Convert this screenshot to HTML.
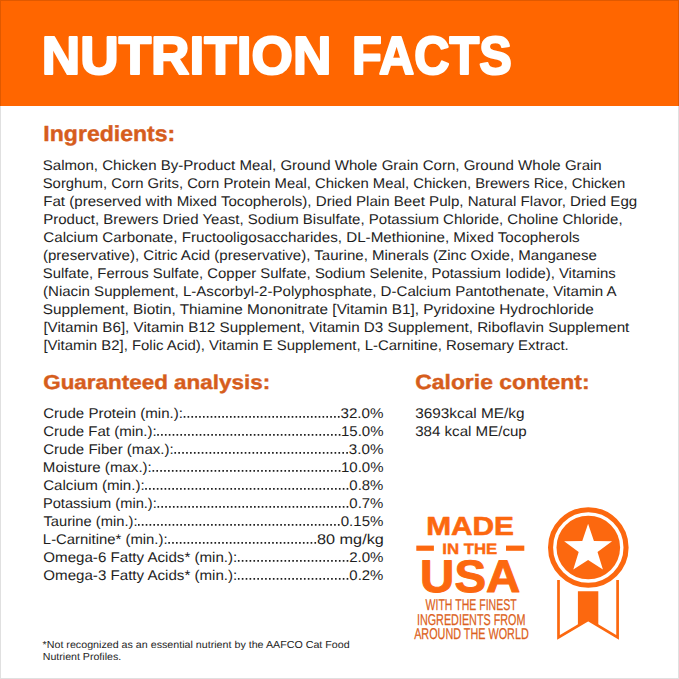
<!DOCTYPE html>
<html><head><meta charset="utf-8"><style>
html,body{margin:0;padding:0;background:#fff;width:679px;height:679px;overflow:hidden}
svg{display:block;font-family:"Liberation Sans",sans-serif;text-rendering:geometricPrecision}
</style></head><body>
<svg width="679" height="679" viewBox="0 0 679 679">
<rect x="0" y="0" width="679" height="106" fill="#ff6600"/>
<text x="41.82" y="74.20" font-size="53.488" font-weight="bold" fill="#fff" textLength="289.55" lengthAdjust="spacingAndGlyphs" stroke="#fff" stroke-width="2.2" stroke-linejoin="round">NUTRITION</text>
<text x="352.05" y="74.20" font-size="53.488" font-weight="bold" fill="#fff" textLength="159.71" lengthAdjust="spacingAndGlyphs" stroke="#fff" stroke-width="2.2" stroke-linejoin="round">FACTS</text>
<text x="43.35" y="141.20" font-size="21.802" font-weight="bold" fill="#d65d1c" textLength="131.96" lengthAdjust="spacingAndGlyphs" stroke="#d65d1c" stroke-width="0.4" stroke-linejoin="round">Ingredients:</text>
<text x="43.20" y="388.70" font-size="20.203" font-weight="bold" fill="#d65d1c" textLength="226.95" lengthAdjust="spacingAndGlyphs" stroke="#d65d1c" stroke-width="0.4" stroke-linejoin="round">Guaranteed analysis:</text>
<text x="415.25" y="388.60" font-size="20.640" font-weight="bold" fill="#d65d1c" textLength="174.31" lengthAdjust="spacingAndGlyphs" stroke="#d65d1c" stroke-width="0.4" stroke-linejoin="round">Calorie content:</text>
<text x="42.72" y="170.00" font-size="14.099" font-weight="normal" fill="#1e1e1e" textLength="559.02" lengthAdjust="spacingAndGlyphs">Salmon, Chicken By-Product Meal, Ground Whole Grain Corn, Ground Whole Grain</text>
<text x="42.72" y="188.03" font-size="14.099" font-weight="normal" fill="#1e1e1e" textLength="582.64" lengthAdjust="spacingAndGlyphs">Sorghum, Corn Grits, Corn Protein Meal, Chicken Meal, Chicken, Brewers Rice, Chicken</text>
<text x="43.22" y="206.06" font-size="14.099" font-weight="normal" fill="#1e1e1e" textLength="594.03" lengthAdjust="spacingAndGlyphs">Fat (preserved with Mixed Tocopherols), Dried Plain Beet Pulp, Natural Flavor, Dried Egg</text>
<text x="43.25" y="224.09" font-size="14.099" font-weight="normal" fill="#1e1e1e" textLength="579.31" lengthAdjust="spacingAndGlyphs">Product, Brewers Dried Yeast, Sodium Bisulfate, Potassium Chloride, Choline Chloride,</text>
<text x="43.25" y="242.12" font-size="14.099" font-weight="normal" fill="#1e1e1e" textLength="536.41" lengthAdjust="spacingAndGlyphs">Calcium Carbonate, Fructooligosaccharides, DL-Methionine, Mixed Tocopherols</text>
<text x="42.99" y="260.15" font-size="14.099" font-weight="normal" fill="#1e1e1e" textLength="553.86" lengthAdjust="spacingAndGlyphs">(preservative), Citric Acid (preservative), Taurine, Minerals (Zinc Oxide, Manganese</text>
<text x="42.72" y="278.18" font-size="14.099" font-weight="normal" fill="#1e1e1e" textLength="573.00" lengthAdjust="spacingAndGlyphs">Sulfate, Ferrous Sulfate, Copper Sulfate, Sodium Selenite, Potassium Iodide), Vitamins</text>
<text x="42.99" y="296.21" font-size="14.099" font-weight="normal" fill="#1e1e1e" textLength="573.60" lengthAdjust="spacingAndGlyphs">(Niacin Supplement, L-Ascorbyl-2-Polyphosphate, D-Calcium Pantothenate, Vitamin A</text>
<text x="42.66" y="314.24" font-size="14.099" font-weight="normal" fill="#1e1e1e" textLength="551.26" lengthAdjust="spacingAndGlyphs">Supplement, Biotin, Thiamine Mononitrate [Vitamin B1], Pyridoxine Hydrochloride</text>
<text x="43.40" y="332.27" font-size="14.099" font-weight="normal" fill="#1e1e1e" textLength="585.95" lengthAdjust="spacingAndGlyphs">[Vitamin B6], Vitamin B12 Supplement, Vitamin D3 Supplement, Riboflavin Supplement</text>
<text x="43.47" y="350.30" font-size="14.099" font-weight="normal" fill="#1e1e1e" textLength="525.24" lengthAdjust="spacingAndGlyphs">[Vitamin B2], Folic Acid), Vitamin E Supplement, L-Carnitine, Rosemary Extract.</text>
<text x="43.21" y="417.70" font-size="14.099" font-weight="normal" fill="#1e1e1e" textLength="139.76" lengthAdjust="spacingAndGlyphs">Crude Protein (min.):</text>
<text x="340.51" y="417.70" font-size="14.099" font-weight="normal" fill="#1e1e1e" textLength="43.00" lengthAdjust="spacingAndGlyphs">32.0%</text>
<text x="43.20" y="435.70" font-size="14.099" font-weight="normal" fill="#1e1e1e" textLength="113.52" lengthAdjust="spacingAndGlyphs">Crude Fat (min.):</text>
<text x="340.97" y="435.70" font-size="14.099" font-weight="normal" fill="#1e1e1e" textLength="42.55" lengthAdjust="spacingAndGlyphs">15.0%</text>
<text x="43.23" y="453.70" font-size="14.099" font-weight="normal" fill="#1e1e1e" textLength="130.43" lengthAdjust="spacingAndGlyphs">Crude Fiber (max.):</text>
<text x="348.84" y="453.70" font-size="14.099" font-weight="normal" fill="#1e1e1e" textLength="34.57" lengthAdjust="spacingAndGlyphs">3.0%</text>
<text x="42.84" y="471.70" font-size="14.099" font-weight="normal" fill="#1e1e1e" textLength="108.97" lengthAdjust="spacingAndGlyphs">Moisture (max.):</text>
<text x="340.97" y="471.70" font-size="14.099" font-weight="normal" fill="#1e1e1e" textLength="42.55" lengthAdjust="spacingAndGlyphs">10.0%</text>
<text x="43.23" y="489.70" font-size="14.099" font-weight="normal" fill="#1e1e1e" textLength="101.46" lengthAdjust="spacingAndGlyphs">Calcium (min.):</text>
<text x="349.36" y="489.70" font-size="14.099" font-weight="normal" fill="#1e1e1e" textLength="34.04" lengthAdjust="spacingAndGlyphs">0.8%</text>
<text x="42.92" y="507.70" font-size="14.099" font-weight="normal" fill="#1e1e1e" textLength="113.91" lengthAdjust="spacingAndGlyphs">Potassium (min.):</text>
<text x="349.36" y="507.70" font-size="14.099" font-weight="normal" fill="#1e1e1e" textLength="34.04" lengthAdjust="spacingAndGlyphs">0.7%</text>
<text x="43.48" y="525.70" font-size="14.099" font-weight="normal" fill="#1e1e1e" textLength="94.01" lengthAdjust="spacingAndGlyphs">Taurine (min.):</text>
<text x="340.76" y="525.70" font-size="14.099" font-weight="normal" fill="#1e1e1e" textLength="42.69" lengthAdjust="spacingAndGlyphs">0.15%</text>
<text x="42.88" y="543.70" font-size="14.099" font-weight="normal" fill="#1e1e1e" textLength="124.68" lengthAdjust="spacingAndGlyphs">L-Carnitine* (min.):</text>
<text x="317.03" y="543.70" font-size="14.099" font-weight="normal" fill="#1e1e1e" textLength="66.81" lengthAdjust="spacingAndGlyphs">80 mg/kg</text>
<text x="43.30" y="561.70" font-size="14.099" font-weight="normal" fill="#1e1e1e" textLength="194.02" lengthAdjust="spacingAndGlyphs">Omega-6 Fatty Acids* (min.):</text>
<text x="349.20" y="561.70" font-size="14.099" font-weight="normal" fill="#1e1e1e" textLength="34.33" lengthAdjust="spacingAndGlyphs">2.0%</text>
<text x="43.30" y="579.70" font-size="14.099" font-weight="normal" fill="#1e1e1e" textLength="194.02" lengthAdjust="spacingAndGlyphs">Omega-3 Fatty Acids* (min.):</text>
<text x="349.36" y="579.70" font-size="14.099" font-weight="normal" fill="#1e1e1e" textLength="34.04" lengthAdjust="spacingAndGlyphs">0.2%</text>
<text x="415.20" y="418.20" font-size="14.099" font-weight="normal" fill="#1e1e1e" textLength="109.31" lengthAdjust="spacingAndGlyphs">3693kcal ME/kg</text>
<text x="415.22" y="436.30" font-size="14.099" font-weight="normal" fill="#1e1e1e" textLength="111.51" lengthAdjust="spacingAndGlyphs">384 kcal ME/cup</text>
<text x="42.62" y="648.10" font-size="10.174" font-weight="normal" fill="#1e1e1e" textLength="307.05" lengthAdjust="spacingAndGlyphs">*Not recognized as an essential nutrient by the AAFCO Cat Food</text>
<text x="42.75" y="660.30" font-size="10.174" font-weight="normal" fill="#1e1e1e" textLength="78.45" lengthAdjust="spacingAndGlyphs">Nutrient Profiles.</text>
<text x="426.17" y="534.60" font-size="26.163" font-weight="bold" fill="#fc680f" textLength="87.81" lengthAdjust="spacingAndGlyphs" stroke="#fc680f" stroke-width="0.6" stroke-linejoin="round">MADE</text>
<text x="442.22" y="553.70" font-size="15.116" font-weight="bold" fill="#fc680f" textLength="55.00" lengthAdjust="spacingAndGlyphs" stroke="#fc680f" stroke-width="0.4" stroke-linejoin="round">IN THE</text>
<text x="420.12" y="591.70" font-size="45.640" font-weight="bold" fill="#fc680f" textLength="100.22" lengthAdjust="spacingAndGlyphs" stroke="#fc680f" stroke-width="1.0" stroke-linejoin="round">USA</text>
<text x="425.58" y="609.80" font-size="15.698" font-weight="normal" fill="#dc5f20" textLength="91.06" lengthAdjust="spacingAndGlyphs" stroke="#dc5f20" stroke-width="0.25" stroke-linejoin="round">WITH THE FINEST</text>
<text x="416.88" y="624.80" font-size="15.698" font-weight="normal" fill="#dc5f20" textLength="108.64" lengthAdjust="spacingAndGlyphs" stroke="#dc5f20" stroke-width="0.25" stroke-linejoin="round">INGREDIENTS FROM</text>
<text x="414.13" y="639.00" font-size="15.698" font-weight="normal" fill="#dc5f20" textLength="114.60" lengthAdjust="spacingAndGlyphs" stroke="#dc5f20" stroke-width="0.25" stroke-linejoin="round">AROUND THE WORLD</text>
<line x1="183.70" y1="416.90" x2="339.61" y2="416.90" stroke="#1e1e1e" stroke-width="1.65" stroke-dasharray="1.65 2.206"/>
<line x1="157.20" y1="434.90" x2="340.41" y2="434.90" stroke="#1e1e1e" stroke-width="1.65" stroke-dasharray="1.65 2.213"/>
<line x1="174.40" y1="452.90" x2="347.91" y2="452.90" stroke="#1e1e1e" stroke-width="1.65" stroke-dasharray="1.65 2.256"/>
<line x1="152.50" y1="470.90" x2="340.41" y2="470.90" stroke="#1e1e1e" stroke-width="1.65" stroke-dasharray="1.65 2.230"/>
<line x1="145.20" y1="488.90" x2="348.31" y2="488.90" stroke="#1e1e1e" stroke-width="1.65" stroke-dasharray="1.65 2.224"/>
<line x1="157.50" y1="506.90" x2="348.31" y2="506.90" stroke="#1e1e1e" stroke-width="1.65" stroke-dasharray="1.65 2.210"/>
<line x1="138.00" y1="524.90" x2="339.61" y2="524.90" stroke="#1e1e1e" stroke-width="1.65" stroke-dasharray="1.65 2.195"/>
<line x1="168.30" y1="542.90" x2="316.11" y2="542.90" stroke="#1e1e1e" stroke-width="1.65" stroke-dasharray="1.65 2.196"/>
<line x1="237.90" y1="560.90" x2="348.31" y2="560.90" stroke="#1e1e1e" stroke-width="1.65" stroke-dasharray="1.65 2.234"/>
<line x1="237.90" y1="578.90" x2="348.31" y2="578.90" stroke="#1e1e1e" stroke-width="1.65" stroke-dasharray="1.65 2.234"/>
<circle cx="588.3" cy="547.5" r="37.75" fill="none" stroke="#fc680f" stroke-width="5.1"/>
<circle cx="588.3" cy="547.5" r="31.8" fill="#fc680f"/>
<polygon points="588.10,523.80 593.92,540.99 612.07,541.21 597.52,552.06 602.91,569.39 588.10,560.00 573.29,569.39 578.68,552.06 564.13,541.21 582.28,540.99" fill="#fff"/>
<polyline points="558.5,580 558.5,637.3 588.2,619.8 617.6,637.3 617.6,580" fill="none" stroke="#fc680f" stroke-width="2.7" stroke-linejoin="miter"/>
<polygon points="577.9,591.3 598.3,591.3 598.3,626 588.2,620 577.9,626" fill="#fc680f"/>
<rect x="416.3" y="545.6" width="17.6" height="5.2" fill="#fc680f"/>
<rect x="506" y="545.6" width="18.3" height="5.2" fill="#fc680f"/>
<rect x="0.5" y="0.5" width="678" height="678" fill="none" stroke="rgba(0,0,0,0.12)" stroke-width="1"/>
</svg>
</body></html>
